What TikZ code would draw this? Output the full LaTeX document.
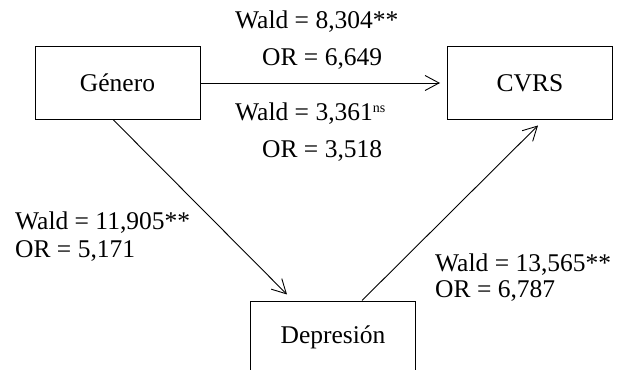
\documentclass[tikz,border=0pt]{standalone}
\usepackage{fontspec}
\setmainfont{Liberation Serif}
\usetikzlibrary{arrows.meta,calc}
\begin{document}
\begin{tikzpicture}[x=1pt,y=-1pt,
  box/.style={draw, line width=1pt, minimum width=165pt, minimum height=72pt, inner sep=0pt,
    font=\fontsize{25.5}{30}\selectfont},
  lab/.style={anchor=base west, inner sep=0pt, font=\fontsize{25.5}{30}\selectfont},
  arr/.style={line width=0.9pt, -{Straight Barb[length=14pt,width=15pt]}}]
\useasboundingbox (0,0) rectangle (623,369);
\clip (0,0) rectangle (623,369);
\node[box] (gen) at (117.5,83) {Género};
\node[box] (cvrs) at (530,83) {CVRS};
\node[box] (dep) at (333,337) {Depresión};
\draw[arr, shorten >=7pt] (gen.east) -- (cvrs.west);
\draw[arr, shorten >=8.5pt] ($(gen.south)+(-4.5,0)$) -- ($(dep.north west)+(43,0)$);
\draw[arr, shorten >=8.5pt] ($(dep.north west)+(112,0)$) -- ($(cvrs.south west)+(97,0)$);
\node[lab] (w1) at (235,29) {Wald = 8,304**};
\node[lab] (o1) at (262,66) {OR = 6,649};
\node[lab] (w2) at (235,120) {Wald = 3,361\raisebox{8pt}{\fontsize{14}{16}\selectfont ns}};
\node[lab] (o2) at (262,157) {OR = 3,518};
\node[lab] (w3) at (15,229) {Wald = 11,905**};
\node[lab] (o3) at (15,257) {OR = 5,171};
\node[lab] (w4) at (435,271) {Wald = 13,565**};
\node[lab] (o4) at (435,297) {OR = 6,787};
\end{tikzpicture}
\end{document}
